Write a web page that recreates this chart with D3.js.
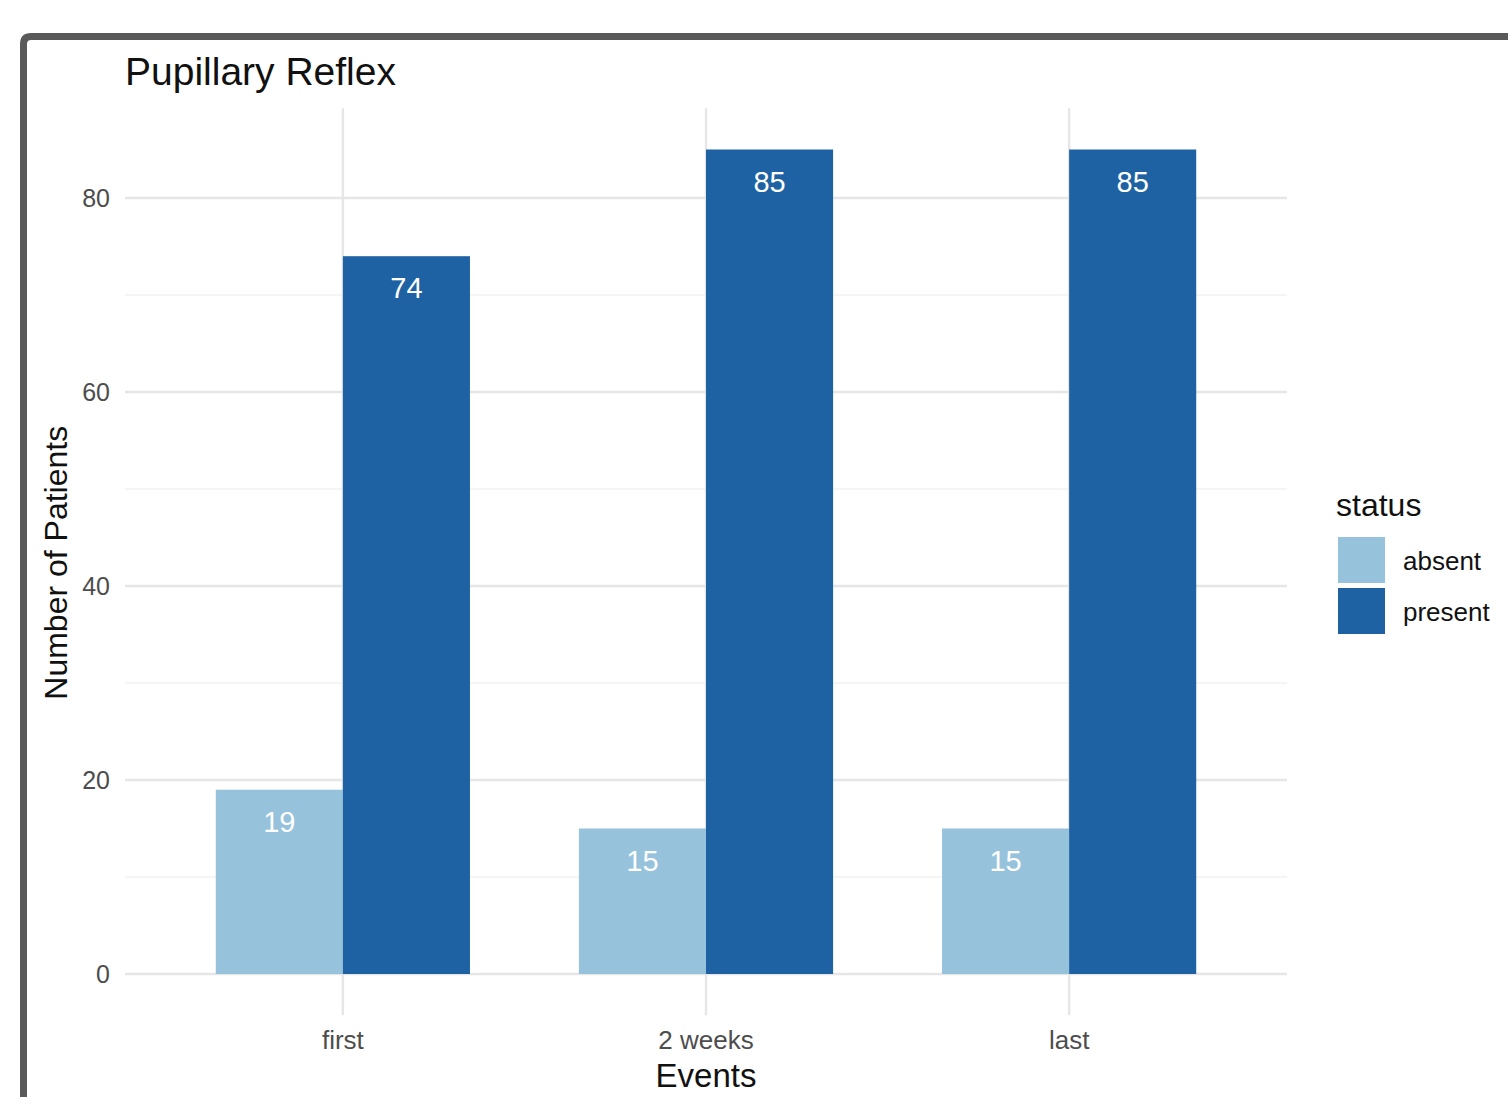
<!DOCTYPE html>
<html><head><meta charset="utf-8">
<script src="https://cdn.jsdelivr.net/npm/d3@7"></script>
<style>body{margin:0;background:#fff}svg{display:block;font-family:"Liberation Sans",Arial,Helvetica,sans-serif}</style>
</head><body><svg id="c" width="1508" height="1097"></svg>
<script>
const categories = ["first", "2 weeks", "last"];
const statuses = ["absent", "present"];
const absentValues = [19, 15, 15];
const presentValues = [74, 85, 85];
const yTicks = [0, 20, 40, 60, 80];
const yMinor = [10, 30, 50, 70];
const colors = ["#96c2dc", "#1e62a4"];

const data = categories.map((c, i) => ({cat: c, vals: [absentValues[i], presentValues[i]]}));
const svg = d3.select("#c");

// frame
svg.append("path").attr("d", "M23.5,1097 L23.5,44 Q23.5,36.5 31,36.5 L1508,36.5")
  .attr("fill", "none").attr("stroke", "#595959").attr("stroke-width", 7);

const L = 125, R = 1287;
const maxV = 85, ex = maxV * 0.05;
const y = d3.scaleLinear().domain([-ex, maxV + ex]).range([974 + ex * 9.7, 974 - (maxV + ex) * 9.7]);
const panelTop = y.range()[1], panelBot = y.range()[0];
const xc = d3.scaleLinear().domain([0.4, categories.length + 0.6]).range([L, R]);
const xb = d3.scaleBand().domain(categories).range([xc(0.5), xc(categories.length + 0.5)]).paddingInner(0.3).paddingOuter(0.15);
const xs = d3.scaleBand().domain(statuses).range([0, xb.bandwidth()]);

const g = svg.append("g");
g.selectAll(".ymin").data(yMinor).join("line").attr("x1", L).attr("x2", R)
  .attr("y1", d => y(d)).attr("y2", d => y(d)).attr("stroke", "#ebebeb").attr("stroke-width", 1.2);
g.selectAll(".ymaj").data(yTicks).join("line").attr("x1", L).attr("x2", R)
  .attr("y1", d => y(d)).attr("y2", d => y(d)).attr("stroke", "#e6e6e6").attr("stroke-width", 2.4);
g.selectAll(".xmaj").data(categories).join("line")
  .attr("x1", d => xb(d) + xb.bandwidth() / 2).attr("x2", d => xb(d) + xb.bandwidth() / 2)
  .attr("y1", panelTop).attr("y2", panelBot).attr("stroke", "#e6e6e6").attr("stroke-width", 2.4);

const grp = g.selectAll(".grp").data(data).join("g").attr("transform", d => `translate(${xb(d.cat)},0)`);
grp.selectAll("rect").data(d => d.vals.map((v, i) => ({v, s: statuses[i], i}))).join("rect")
  .attr("x", d => xs(d.s)).attr("width", xs.bandwidth())
  .attr("y", d => y(d.v)).attr("height", d => y(0) - y(d.v)).attr("fill", d => colors[d.i]);
grp.selectAll("text").data(d => d.vals.map((v, i) => ({v, s: statuses[i], i}))).join("text")
  .attr("x", d => xs(d.s) + xs.bandwidth() / 2).attr("y", d => y(d.v) + 42)
  .attr("text-anchor", "middle").attr("fill", "#fff").attr("font-size", 29).text(d => d.v);

g.selectAll(".yl").data(yTicks).join("text").attr("x", 110).attr("y", d => y(d) + 9)
  .attr("text-anchor", "end").attr("fill", "#4d4d4d").attr("font-size", 25).text(d => d);
g.selectAll(".xl").data(categories).join("text").attr("x", d => xb(d) + xb.bandwidth() / 2).attr("y", 1049)
  .attr("text-anchor", "middle").attr("fill", "#4d4d4d").attr("font-size", 26).text(d => d);

svg.append("text").attr("x", (L + R) / 2).attr("y", 1087).attr("text-anchor", "middle")
  .attr("font-size", 33).attr("fill", "#111").text("Events");
svg.append("text").attr("transform", `translate(67,${(panelTop + panelBot) / 2 + 1}) rotate(-90)`).attr("text-anchor", "middle")
  .attr("font-size", 32).attr("fill", "#111").text("Number of Patients");
svg.append("text").attr("x", L).attr("y", 85).attr("font-size", 39).attr("fill", "#111").text("Pupillary Reflex");

const lg = svg.append("g");
lg.append("text").attr("x", 1336).attr("y", 516).attr("font-size", 32).attr("fill", "#111").text("status");
statuses.forEach((s, i) => {
  lg.append("rect").attr("x", 1338).attr("y", 537 + i * 51).attr("width", 47).attr("height", 46).attr("fill", colors[i]);
  lg.append("text").attr("x", 1403).attr("y", 570 + i * 51).attr("font-size", 26).attr("fill", "#111").text(s);
});
</script></body></html>
